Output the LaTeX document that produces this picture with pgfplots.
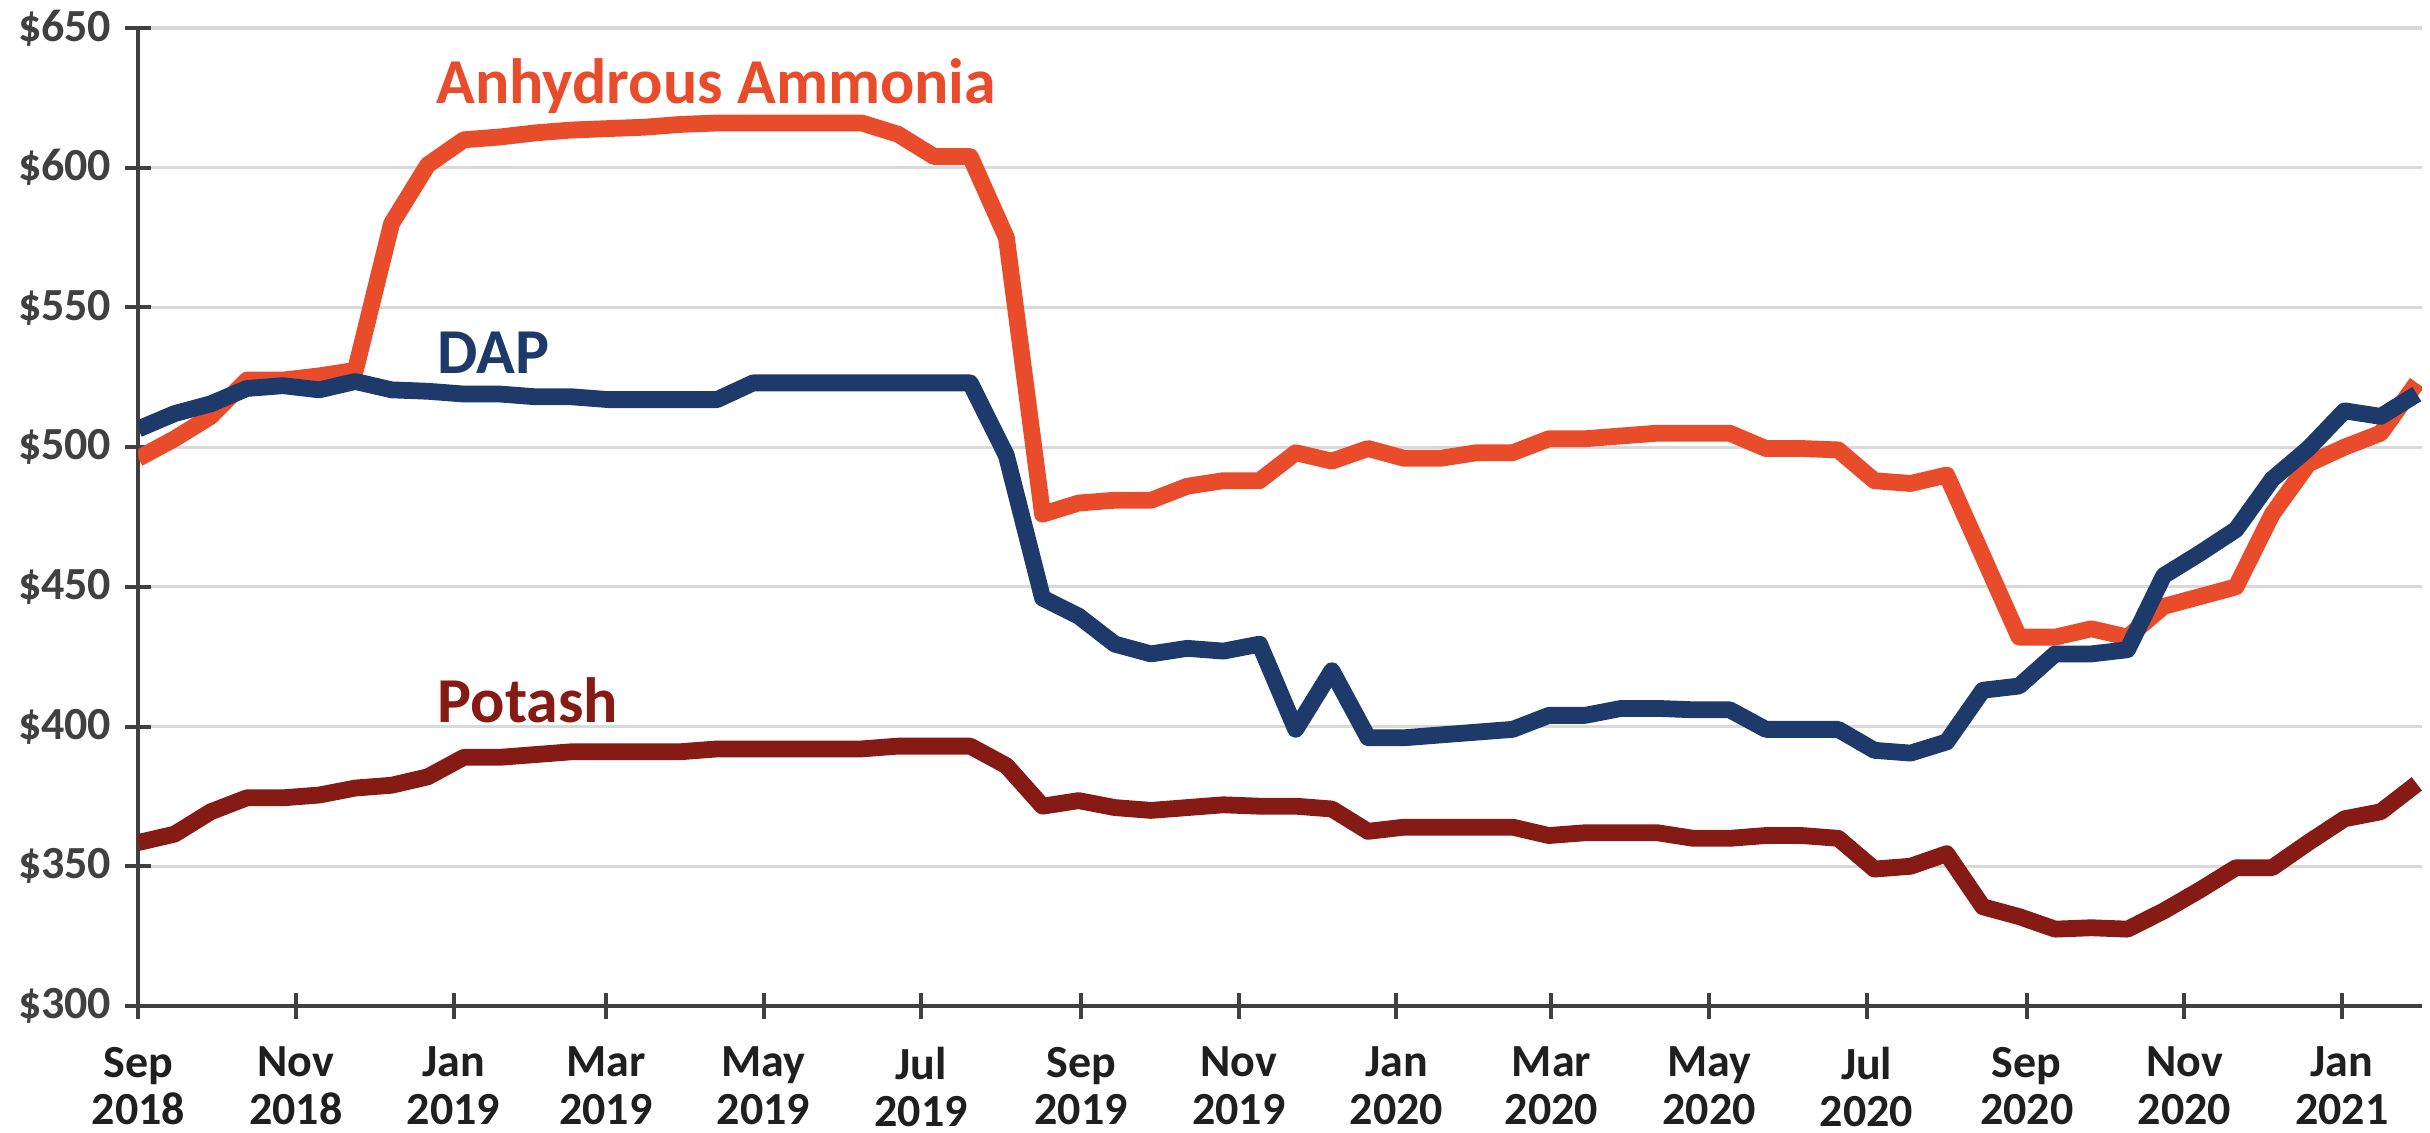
\documentclass[border=0pt]{standalone}
\usepackage{fontspec}
\setmainfont{Carlito}
\usepackage{pgfplots}
\usepackage{pgfplotstable}
\pgfplotsset{compat=1.18}
\definecolor{amm}{HTML}{E84C2A}
\definecolor{dap}{HTML}{1D3A6B}
\definecolor{pot}{HTML}{861A14}
\definecolor{axgray}{HTML}{404040}
\definecolor{gridgray}{HTML}{D9D9D9}
\pgfplotstableread{
day amm dap pot
0 496 506.5 358.5
14 503 512 361.5
28 511 515.5 369.5
42 524 521 374.5
56 524 522 374.5
70 525.5 520.5 375.5
84 527.5 523.5 378
98 580 520.5 379
112 601 520 382
126 610 519 389
140 611 519 389
154 612.5 518 390
168 613.5 518 391
182 614 517 391
196 614.5 517 391
210 615.5 517 391
224 616 517 392
238 616 523 392
252 616 523 392
266 616 523 392
280 616 523 392
294 612 523 393
308 604 523 393
322 604 523 393
336 575 497 386
350 476 446 371.5
364 480 439.5 373.5
378 481 429.5 371
392 481 426 370
406 486 428 371
420 488 427 372
434 488 429.5 371.5
448 498 399 371.5
462 495 420 370.5
476 499.5 396 362.5
490 496 396 364
504 496 397 364
518 498 398 364
532 498 399 364
546 503 404 361
560 503 404 362
574 504 406.5 362
588 505 406.5 362
602 505 406 360
616 505 406 360
630 499.5 399 361
644 499.5 399 361
658 499 399 360
672 488 391.5 349
686 487 390.5 350
700 490 394.5 354.5
714 461 413 335.5
728 432 414.5 332
742 432 426 327.5
756 435 426 328
770 432 427.5 327.5
784 443 454 334
798 446.5 462 341.5
812 450 470.5 349.5
826 476 488.5 349.5
840 494 499.5 358.5
854 500 513 367
868 505 511 369.5
882 523 519 379.5
}\datatable
\begin{document}
\begin{tikzpicture}
\begin{axis}[
  width=570.9pt, height=244.5pt, scale only axis,
  xmin=0, xmax=884, ymin=300, ymax=650,
  axis x line*=bottom, axis y line*=left,
  axis line style={axgray, line width=1pt},
  xtick={0,61,122,181,242,303,365,426,487,547,608,669,731,792,853},
  xticklabels={Sep\\2018,Nov\\2018,Jan\\2019,Mar\\2019,May\\2019,Jul\\2019,Sep\\2019,Nov\\2019,Jan\\2020,Mar\\2020,May\\2020,Jul\\2020,Sep\\2020,Nov\\2020,Jan\\2021},
  ytick={300,350,400,450,500,550,600,650},
  yticklabels={\$300,\$350,\$400,\$450,\$500,\$550,\$600,\$650},
  ymajorgrids, grid style={gridgray, line width=0.8pt},
  tick align=center, major tick length=6.5pt,
  tick style={axgray, line width=1pt},
  xticklabel style={align=center, font=\bfseries\fontsize{11.5}{11.8}\selectfont, text=black!88, yshift=-3.5pt},
  yticklabel style={font=\bfseries\fontsize{11.5}{12}\selectfont, text=axgray},
  every axis plot/.append style={line width=4.2pt, line join=round, no marks},
]
\addplot[amm] table[x=day,y=amm]{\datatable};
\addplot[pot] table[x=day,y=pot]{\datatable};
\addplot[dap] table[x=day,y=dap]{\datatable};
\node[anchor=base west, text=amm, font=\bfseries\fontsize{16}{16}\selectfont, inner sep=0pt] at (axis cs:115,622.9) {Anhydrous Ammonia};
\node[anchor=base west, text=dap, font=\bfseries\fontsize{16}{16}\selectfont, inner sep=0pt] at (axis cs:115.5,526.5) {DAP};
\node[anchor=base west, text=pot, font=\bfseries\fontsize{16}{16}\selectfont, inner sep=0pt] at (axis cs:115.5,401.3) {Potash};
\coordinate (bl) at (rel axis cs:0,0);
\coordinate (tr) at (rel axis cs:1,1);
\end{axis}
\pgfresetboundingbox
\path ([shift={(-34.6pt,-31.75pt)}]bl) rectangle ([shift={(2pt,7pt)}]tr);
\end{tikzpicture}
\end{document}
